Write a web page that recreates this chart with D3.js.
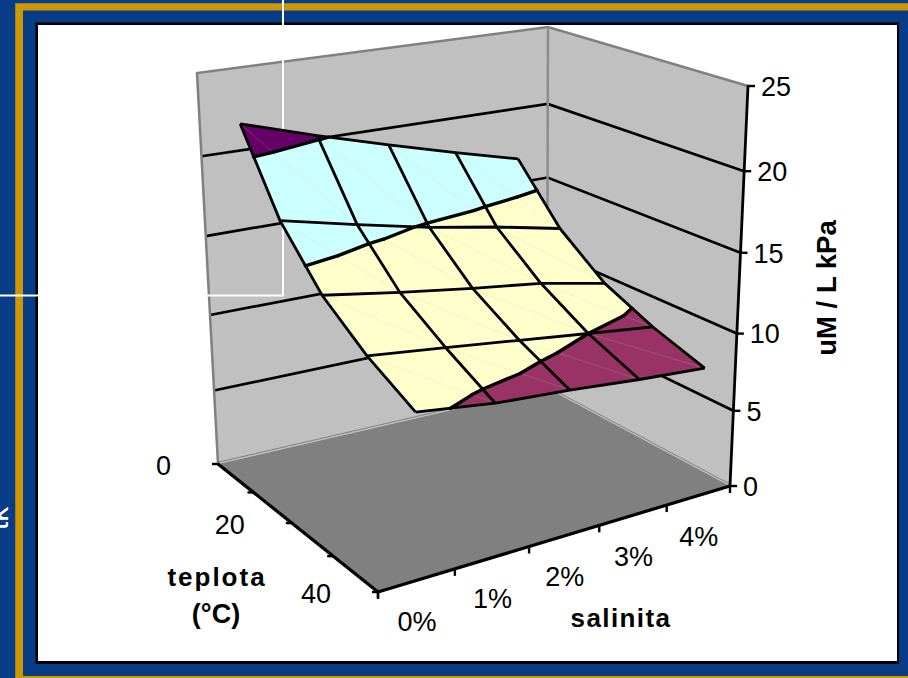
<!DOCTYPE html>
<html>
<head>
<meta charset="utf-8">
<script src="https://d3js.org/d3.v7.min.js"></script>
<style>
  body { margin: 0; background: #083c86; overflow: hidden; }
  text { font-family: "Liberation Sans", Arial, sans-serif; fill: #000; }
</style>
</head>
<body>
<div id="chart"></div>
<script>
// chart values
var salinityLabels = ["0%", "1%", "2%", "3%", "4%"];
var temperatures = [0, 10, 20, 30, 40];
var temperatureLabels = [0, 20, 40];
var zTicks = [0, 5, 10, 15, 20, 25];
var bandLimits = [5, 10, 15, 20, 25];
var bandColors = ["#993366", "#ffffcc", "#ccffff", "#660066"];

// one row per temperature, one value per salinity
var valuesAt0 = [21.6, 20.2, 18.9, 17.7, 16.6];
var valuesAt10 = [16.9, 15.8, 14.8, 14.0, 13.1];
var valuesAt20 = [13.8, 13.0, 12.3, 11.7, 10.8];
var valuesAt30 = [11.8, 11.2, 10.6, 10.0, 9.4];
var valuesAt40 = [10.3, 9.6, 9.2, 8.7, 8.3];
var surface = [valuesAt0, valuesAt10, valuesAt20, valuesAt30, valuesAt40];

var width = 908, height = 678;

var svg = d3.select("#chart").append("svg")
    .attr("width", width)
    .attr("height", height)
    .style("display", "block");

// slide frame
svg.append("rect").attr("x", 15.5).attr("y", 3.5).attr("width", 1000).attr("height", 1000)
    .attr("fill", "#cc9900").attr("stroke", "#94803c");
svg.append("rect").attr("x", 23).attr("y", 10.5).attr("width", 1000).attr("height", 665.5)
    .attr("fill", "#083c86");
svg.append("rect").attr("x", 35.5).attr("y", 22.5).attr("width", 863.5).attr("height", 641.5)
    .attr("fill", "#000");
svg.append("rect").attr("x", 38).attr("y", 25).attr("width", 859).attr("height", 636)
    .attr("fill", "#fff");

// piece of rotated text cut by the left edge of the slide
svg.append("text")
    .attr("transform", "translate(8,530) rotate(-90)")
    .style("font-size", "30px")
    .style("fill", "#fff")
    .text("tk");

// 3D box: perspective maps for the floor and the top of the box
function homography(p) {
  var x0 = p[0][0], y0 = p[0][1], x1 = p[1][0], y1 = p[1][1],
      x2 = p[2][0], y2 = p[2][1], x3 = p[3][0], y3 = p[3][1];
  var dx1 = x1 - x2, dx2 = x3 - x2, sx = x0 - x1 + x2 - x3,
      dy1 = y1 - y2, dy2 = y3 - y2, sy = y0 - y1 + y2 - y3;
  var d = dx1 * dy2 - dx2 * dy1,
      g = (sx * dy2 - dx2 * sy) / d,
      h = (dx1 * sy - sx * dy1) / d;
  var a = x1 - x0 + g * x1, b = x3 - x0 + h * x3,
      c = y1 - y0 + g * y1, e = y3 - y0 + h * y3;
  return function(u, v) {
    var w = g * u + h * v + 1;
    return [(a * u + b * v + x0) / w, (c * u + e * v + y0) / w];
  };
}
var floorMap = homography([[218, 464], [547, 388], [730, 486], [378, 592]]);
var topMap = homography([[197, 73], [548, 27], [748, 86], [367, 162]]);

// scales: salinity tick position, temperature and value to box fractions
var xScale = d3.scaleLinear().domain([0, 1, 2, 3, 4, 5]).range([0, 0.192, 0.39, 0.59, 0.795, 1]);
var yScale = d3.scaleLinear().domain([0, 40]).range([0, 1]);
var zScale = d3.scaleLinear().domain(zTicks).range([0, 0.188, 0.381, 0.583, 0.787, 1]);

function boxPoint(u, v, z) {
  var f = floorMap(u, v), g = topMap(u, v), k = zScale(z);
  return [f[0] + (g[0] - f[0]) * k, f[1] + (g[1] - f[1]) * k];
}
// surface points sit in the middle of the salinity intervals
function project(s, t, z) {
  return boxPoint(xScale(s + 0.5), yScale(t), z);
}

var line = d3.line();

// walls
svg.append("path")
    .attr("d", line([boxPoint(0, 0, 0), boxPoint(0, 0, 25), boxPoint(1, 0, 25), boxPoint(1, 1, 25), boxPoint(1, 1, 0), boxPoint(1, 0, 0)]) + "Z")
    .attr("fill", "#c0c0c0");

// wall gridlines
svg.append("g").selectAll("path")
    .data(zTicks.slice(1, 5))
    .enter().append("path")
    .attr("d", function(z) { return line([boxPoint(0, 0, z), boxPoint(1, 0, z), boxPoint(1, 1, z)]); })
    .attr("fill", "none")
    .attr("stroke", "#000")
    .attr("stroke-width", 2.7);

// wall outlines
svg.append("path")
    .attr("d", line([boxPoint(0, 0, 0), boxPoint(0, 0, 25), boxPoint(1, 0, 25), boxPoint(1, 1, 25)]))
    .attr("fill", "none").attr("stroke", "#808080").attr("stroke-width", 2.5);
svg.append("path")
    .attr("d", line([boxPoint(1, 0, 0), boxPoint(1, 0, 25)]))
    .attr("fill", "none").attr("stroke", "#8c8c8c").attr("stroke-width", 2.5);

// floor, with the thin edge of the plate behind it
svg.append("path")
    .attr("d", line([boxPoint(0, 0, 0.12), boxPoint(1, 0, 0.12), boxPoint(1, 1, 0.12)]))
    .attr("fill", "none").attr("stroke", "#808080").attr("stroke-width", 1);
svg.append("path")
    .attr("d", line([boxPoint(0, 0, 0), boxPoint(1, 0, 0), boxPoint(1, 1, 0), boxPoint(0, 1, 0)]) + "Z")
    .attr("fill", "#808080");

// white lines of the slide behind the chart
svg.append("path")
    .attr("d", "M283,0V295.5H0")
    .attr("fill", "none").attr("stroke", "#fff").attr("stroke-width", 2);

// surface cells are split into two triangles along the same diagonal
var triangles = [];
d3.range(4).forEach(function(i) {
  d3.range(4).forEach(function(j) {
    var a = {s: j, t: temperatures[i], z: surface[i][j]},
        b = {s: j + 1, t: temperatures[i], z: surface[i][j + 1]},
        c = {s: j + 1, t: temperatures[i + 1], z: surface[i + 1][j + 1]},
        d = {s: j, t: temperatures[i + 1], z: surface[i + 1][j]};
    triangles.push([a, b, c], [a, c, d]);
  });
});

function crossing(a, b, level) {
  var k = (level - a.z) / (b.z - a.z);
  return {s: a.s + (b.s - a.s) * k, t: a.t + (b.t - a.t) * k, z: level};
}
// keep the part of a polygon on one side of a level
function clip(poly, level, above) {
  var out = [];
  poly.forEach(function(p, i) {
    var q = poly[(i + 1) % poly.length];
    var pIn = above ? p.z >= level : p.z <= level,
        qIn = above ? q.z >= level : q.z <= level;
    if (pIn) out.push(p);
    if (pIn !== qIn) out.push(crossing(p, q, level));
  });
  return out;
}
function toPath(poly) {
  return line(poly.map(function(p) { return project(p.s, p.t, p.z); }));
}

var bandPieces = [];
triangles.forEach(function(tri) {
  bandColors.forEach(function(color, b) {
    var piece = clip(clip(tri, bandLimits[b], true), bandLimits[b + 1], false);
    if (piece.length > 2) bandPieces.push({poly: piece, color: color});
  });
});

var contours = [];
triangles.forEach(function(tri) {
  [10, 15, 20].forEach(function(level) {
    var pts = [];
    tri.forEach(function(p, i) {
      var q = tri[(i + 1) % 3];
      if ((p.z < level) !== (q.z < level)) pts.push(crossing(p, q, level));
    });
    if (pts.length === 2) contours.push(pts);
  });
});

var surfaceG = svg.append("g");

surfaceG.selectAll(".band")
    .data(bandPieces)
    .enter().append("path")
    .attr("class", "band")
    .attr("d", function(d) { return toPath(d.poly) + "Z"; })
    .attr("fill", function(d) { return d.color; })
    .attr("stroke", function(d) { return d.color; })
    .attr("stroke-width", 0.6);

// faint triangle seams
surfaceG.selectAll(".seam")
    .data(triangles.filter(function(d, i) { return i % 2 === 0; }))
    .enter().append("path")
    .attr("class", "seam")
    .attr("d", function(d) { return toPath([d[0], d[2]]); })
    .attr("fill", "none")
    .attr("stroke", "#c8c8c8")
    .attr("stroke-width", 0.5)
    .attr("stroke-opacity", 0.35);

surfaceG.selectAll(".contour")
    .data(contours)
    .enter().append("path")
    .attr("class", "contour")
    .attr("d", toPath)
    .attr("fill", "none")
    .attr("stroke", "#000")
    .attr("stroke-width", 3.4)
    .attr("stroke-linecap", "round");

// grid of the surface: rows then columns
var rows = surface.map(function(row, i) {
  return row.map(function(z, j) { return {s: j, t: temperatures[i], z: z}; });
});
var columns = d3.range(5).map(function(j) {
  return surface.map(function(row, i) { return {s: j, t: temperatures[i], z: row[j]}; });
});
surfaceG.selectAll(".grid")
    .data(rows.concat(columns))
    .enter().append("path")
    .attr("class", "grid")
    .attr("d", toPath)
    .attr("fill", "none")
    .attr("stroke", "#000")
    .attr("stroke-width", 2.8)
    .attr("stroke-linejoin", "round");

// axes
function drawLine(a, b, w) {
  svg.append("path")
      .attr("d", line([a, b]))
      .attr("stroke", "#000")
      .attr("stroke-width", w || 2.4)
      .attr("fill", "none");
}
function axisLabel(p, dx, dy, anchor, txt) {
  svg.append("text")
      .attr("x", p[0] + dx)
      .attr("y", p[1] + dy)
      .attr("dy", "0.36em")
      .attr("text-anchor", anchor)
      .style("font-size", "27px")
      .text(txt);
}

// value axis on the right corner
drawLine(boxPoint(1, 1, 0), boxPoint(1, 1, 25), 2.8);
zTicks.forEach(function(z) {
  var p = boxPoint(1, 1, z);
  drawLine([p[0] - 1, p[1]], [p[0] + 7, p[1]]);
  axisLabel(p, 13, 0, "start", z);
});

// temperature axis
drawLine(boxPoint(0, 0, 0), boxPoint(0, 1, 0), 3.2);
temperatures.forEach(function(t) {
  var p = boxPoint(0, yScale(t), 0);
  drawLine([p[0] - 6, p[1]], [p[0] + 1, p[1]]);
});
temperatureLabels.forEach(function(t) {
  axisLabel(boxPoint(0, yScale(t), 0), -47, 1, "end", t);
});
var front = boxPoint(0, 1, 0);
drawLine(front, [front[0], front[1] + 6]);

// salinity axis
drawLine(boxPoint(0, 1, 0), boxPoint(1, 1, 0), 3.2);
d3.range(6).forEach(function(i) {
  var p = boxPoint(xScale(i), 1, 0);
  drawLine(p, [p[0], p[1] + 7]);
});
salinityLabels.forEach(function(txt, i) {
  axisLabel(boxPoint(xScale(i + 0.5), 1, 0), 0, 41, "middle", txt);
});

// axis titles
function title(x, y, txt, spacing, size, transform) {
  var el = svg.append("text")
      .attr("text-anchor", "middle")
      .style("font-size", size + "px")
      .style("font-weight", "bold")
      .style("letter-spacing", spacing + "px")
      .text(txt);
  if (transform) el.attr("transform", transform);
  else el.attr("x", x).attr("y", y);
}
title(217, 586, "teplota", 2, 26);
title(216, 623, "(°C)", 0, 27);
title(621, 627, "salinita", 1.4, 26);
title(0, 0, "uM / L kPa", 0, 27.5, "translate(836,288) rotate(-90)");
</script>
</body>
</html>
